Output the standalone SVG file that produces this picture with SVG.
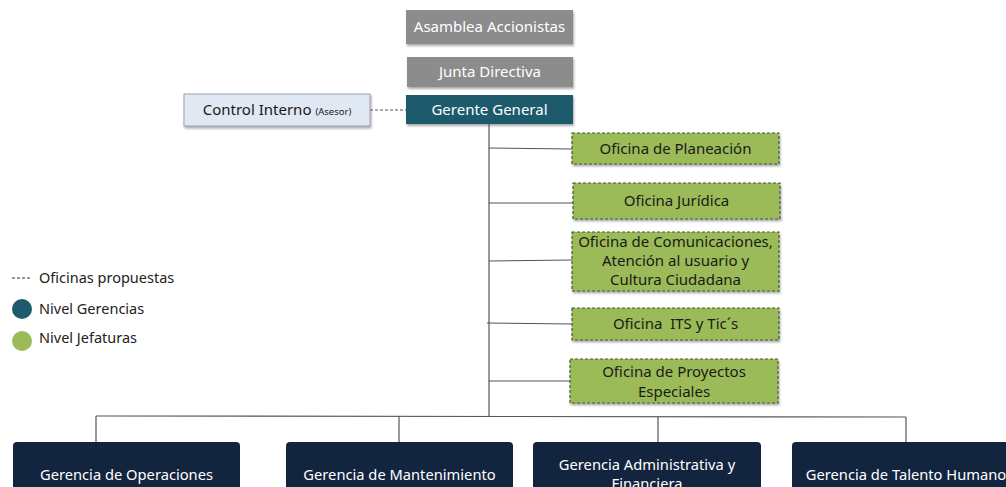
<svg xmlns="http://www.w3.org/2000/svg" width="1006" height="487" viewBox="0 0 1006 487">
<defs>
<filter id="sh" x="-10%" y="-20%" width="120%" height="150%">
<feDropShadow dx="1" dy="2" stdDeviation="1.2" flood-color="#555" flood-opacity="0.5"/>
</filter>
</defs>
<style>
text{font-family:"Noto Sans","Open Sans",sans-serif;text-anchor:middle;white-space:pre;}
.gray{fill:#8c8c8c;}
.wt{fill:#ffffff;font-size:15px;}
.wb{fill:#ffffff;font-size:14.7px;}
.dk{fill:#1a1a1a;font-size:15px;}
.green{fill:#9bbb59;stroke:#4a5a2a;stroke-width:1.2;stroke-dasharray:3,2;}
.navy{fill:#13243f;}
.ln{stroke:#555;stroke-width:1.2;fill:none;}
.lg{font-size:14.5px;fill:#222;text-anchor:start;}
</style>
<g id="connectors">
<line class="ln" x1="489" y1="124" x2="489" y2="416"/>
<line class="ln" x1="489" y1="148" x2="572" y2="149"/>
<line class="ln" x1="489" y1="203" x2="573" y2="203"/>
<line class="ln" x1="489" y1="261" x2="572" y2="260"/>
<line class="ln" x1="487" y1="323" x2="572" y2="324"/>
<line class="ln" x1="489" y1="381" x2="570" y2="381"/>
<line class="ln" x1="96" y1="416" x2="906" y2="417"/>
<line class="ln" x1="96" y1="416" x2="96" y2="442"/>
<line class="ln" x1="399" y1="416" x2="399" y2="442"/>
<line class="ln" x1="658" y1="417" x2="658" y2="442"/>
<line class="ln" x1="906" y1="417" x2="906" y2="442"/>
<line class="ln" x1="370" y1="110" x2="406" y2="110" stroke-dasharray="3,2"/>
</g>
<g id="asamblea">
<rect class="gray" x="406" y="10" width="167" height="34" filter="url(#sh)"/>
<text class="wt" x="489.5" y="32">Asamblea Accionistas</text>
</g>
<g id="junta">
<rect class="gray" x="407" y="57" width="166" height="30" filter="url(#sh)"/>
<text class="wt" x="490" y="77">Junta Directiva</text>
</g>
<g id="gerente">
<rect x="406" y="95" width="167" height="29" fill="#1d5a6c" filter="url(#sh)"/>
<text class="wt" x="489.5" y="115">Gerente General</text>
</g>
<g id="control">
<rect x="184" y="94" width="186" height="32" fill="#dfe8f3" stroke="#9aa3ad" stroke-width="1" filter="url(#sh)"/>
<text class="dk" x="277" y="115">Control Interno <tspan font-size="9.5">(Asesor)</tspan></text>
</g>
<g id="planeacion">
<rect class="green" x="572" y="133" width="207" height="31" filter="url(#sh)"/>
<text class="dk" x="675.5" y="154">Oficina de Planeación</text>
</g>
<g id="juridica">
<rect class="green" x="573" y="183" width="207" height="36" filter="url(#sh)"/>
<text class="dk" x="676.5" y="206">Oficina Jurídica</text>
</g>
<g id="comunicaciones">
<rect class="green" x="572" y="232" width="207" height="59" filter="url(#sh)"/>
<text class="dk" x="675.5" y="247">Oficina de Comunicaciones,</text>
<text class="dk" x="675.5" y="266">Atención al usuario y</text>
<text class="dk" x="675.5" y="285">Cultura Ciudadana</text>
</g>
<g id="its">
<rect class="green" x="572" y="308" width="207" height="32" filter="url(#sh)"/>
<text class="dk" x="675.5" y="329">Oficina  ITS y Tic´s</text>
</g>
<g id="proyectos">
<rect class="green" x="570" y="359" width="208" height="44" filter="url(#sh)"/>
<text class="dk" x="674" y="377">Oficina de Proyectos</text>
<text class="dk" x="674" y="397">Especiales</text>
</g>
<g id="operaciones">
<rect class="navy" x="13" y="442" width="227" height="60" rx="4"/>
<text class="wb" x="126.5" y="480">Gerencia de Operaciones</text>
</g>
<g id="mantenimiento">
<rect class="navy" x="286" y="442" width="227" height="60" rx="4"/>
<text class="wb" x="399.5" y="480">Gerencia de Mantenimiento</text>
</g>
<g id="administrativa">
<rect class="navy" x="533" y="442" width="228" height="60" rx="4"/>
<text class="wb" x="647" y="470">Gerencia Administrativa y</text>
<text class="wb" x="647" y="489">Financiera</text>
</g>
<g id="talento">
<rect class="navy" x="792" y="442" width="230" height="60" rx="4"/>
<text class="wb" x="906" y="480">Gerencia de Talento Humano</text>
</g>
<g id="legend">
<line x1="12" y1="278" x2="32" y2="278" stroke="#333" stroke-width="1.2" stroke-dasharray="3,2"/>
<text class="lg" x="39" y="283">Oficinas propuestas</text>
<circle cx="22" cy="309" r="10" fill="#1d5a6c"/>
<text class="lg" x="39" y="314">Nivel Gerencias</text>
<circle cx="22" cy="341" r="10" fill="#9bbb59"/>
<text class="lg" x="39" y="343">Nivel Jefaturas</text>
</g>
</svg>
